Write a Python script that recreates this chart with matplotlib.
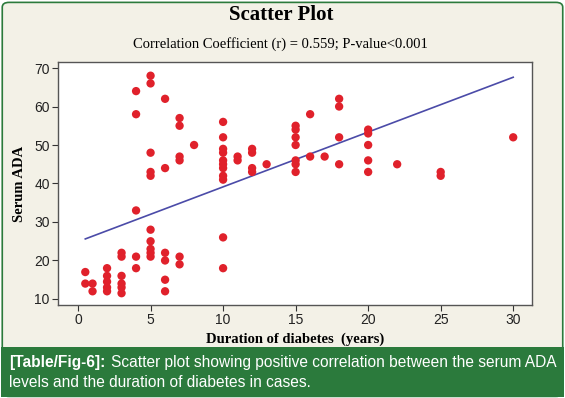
import matplotlib
matplotlib.use("Agg")
import matplotlib.pyplot as plt
from matplotlib.patches import FancyBboxPatch, Rectangle

# duration of diabetes (years) and serum ADA
duration = [0.5, 0.5,
            1, 1,
            2, 2, 2, 2, 2,
            3, 3, 3, 3, 3, 3,
            4, 4, 4, 4, 4,
            5, 5, 5, 5, 5, 5, 5, 5, 5, 5,
            6, 6, 6, 6, 6, 6,
            7, 7, 7, 7, 7, 7,
            8,
            10, 10, 10, 10, 10, 10, 10, 10, 10, 10, 10,
            11, 11,
            12, 12, 12, 12,
            13,
            15, 15, 15, 15, 15, 15, 15,
            16, 16,
            17,
            18, 18, 18, 18,
            20, 20, 20, 20, 20,
            22,
            25, 25,
            30]
serum_ada = [17, 14,
             14, 12,
             18, 16, 14.5, 13, 12,
             22, 21, 16, 14, 13, 11.5,
             64, 58, 33, 21, 18,
             68, 66, 48, 43, 42, 28, 25, 23, 22, 21,
             62, 44, 22, 20, 15, 12,
             57, 55, 47, 46, 21, 19,
             50,
             56, 52, 49, 48, 46, 45, 44, 42, 41, 26, 18,
             47, 46,
             49, 48, 44, 43,
             45,
             55, 54, 52, 50, 46, 45, 43,
             58, 47,
             47,
             62, 60, 52, 45,
             54, 53, 50, 46, 43,
             45,
             43, 42,
             52]

# fitted line end points
fit_x = [0.5, 30]
fit_y = [25.6, 67.6]

xticks = [0, 5, 10, 15, 20, 25, 30]
yticks = [10, 20, 30, 40, 50, 60, 70]

serif = "Liberation Serif"
sans = "Liberation Sans"
green = "#2b7a3c"

fig = plt.figure(figsize=(5.65, 3.98), dpi=100)
fig.patch.set_facecolor("white")

# beige panel with green frame, and the caption band
fig.patches.append(FancyBboxPatch((0.004, 0.004), 0.992, 0.99,
                                  boxstyle="round,pad=0,rounding_size=0.012",
                                  transform=fig.transFigure, facecolor="#f3f1e7",
                                  edgecolor=green, linewidth=1.2, zorder=-2))
fig.patches.append(Rectangle((0.002, 0.002), 0.996, 0.127, transform=fig.transFigure,
                             facecolor=green, edgecolor="none", zorder=-1))

ax = fig.add_axes([0.1027, 0.2337, 0.839, 0.6105])
ax.set_zorder(5)
ax.set_facecolor("white")
ax.scatter(duration, serum_ada, s=36, color="#e0212b", edgecolors="none", zorder=3)
ax.plot(fit_x, fit_y, color="#4b4ba8", linewidth=1.2, zorder=2)

ax.set_xlim(-1.38, 31.3)
ax.set_ylim(8.44, 71.56)
ax.set_xticks(xticks)
ax.set_yticks(yticks)
ax.tick_params(direction="out", length=4, width=0.8, colors="#333333", labelsize=10, pad=2)
for lab in ax.get_xticklabels() + ax.get_yticklabels():
    lab.set_fontfamily(sans)
    lab.set_color("#222222")
for sp in ax.spines.values():
    sp.set_color("#555555")
    sp.set_linewidth(1.0)

ax.set_xlabel("Duration of diabetes  (years)", fontfamily=serif, fontweight="bold",
              fontsize=10.5, labelpad=4)
ax.set_ylabel("Serum ADA", fontfamily=serif, fontweight="bold", fontsize=10.5, labelpad=6)

fig.text(0.497, 0.962, "Scatter Plot", ha="center", va="center", fontfamily=serif,
         fontweight="bold", fontsize=15)
fig.text(0.497, 0.889, "Correlation Coefficient (r) = 0.559; P-value<0.001", ha="center",
         va="center", fontfamily=serif, fontsize=10.5)

# caption
t1 = fig.text(0.016, 0.09, "[Table/Fig-6]:", ha="left", va="center", fontfamily=sans,
              fontweight="bold", fontsize=11.2, color="white")
fig.canvas.draw()
bb = t1.get_window_extent(renderer=fig.canvas.get_renderer())
x_next = bb.x1 / fig.bbox.width + 0.009
fig.text(x_next, 0.09, "Scatter plot showing positive correlation between the serum ADA",
         ha="left", va="center", fontfamily=sans, fontsize=11.2, color="white")
fig.text(0.016, 0.04, "levels and the duration of diabetes in cases.", ha="left", va="center",
         fontfamily=sans, fontsize=11.2, color="white")

fig.savefig("out.png", dpi=100, facecolor=fig.get_facecolor())
